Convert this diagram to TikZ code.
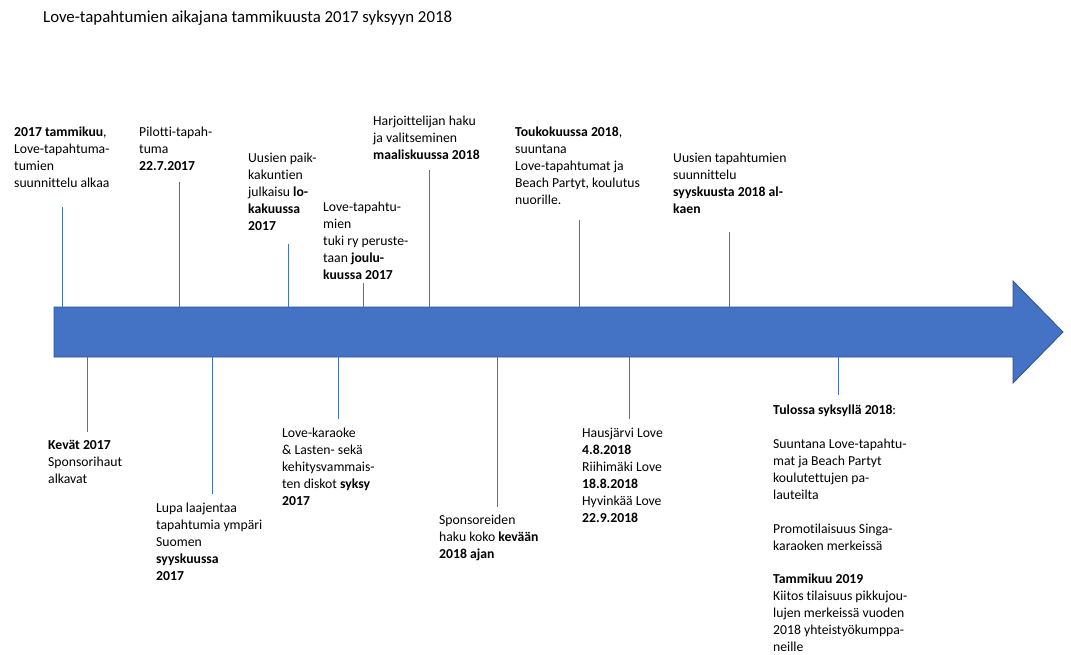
\documentclass[tikz,border=0pt]{standalone}
\usepackage{fontspec}
\setmainfont[Ligatures=NoCommon]{Carlito}
\definecolor{arrowfill}{HTML}{4472C4}
\definecolor{arrowedge}{HTML}{2F528F}
\definecolor{tick}{HTML}{4472C4}
\tikzset{
  lbl/.style={anchor=north west, inner sep=0pt, align=left,
    font=\fontsize{13.7pt}{17pt}\selectfont},
  ttl/.style={anchor=west, inner sep=0pt, font=\fontsize{16.8pt}{20pt}\selectfont},
  tickline/.style={draw=tick, line width=0.8pt},
  bigarrow/.style={fill=arrowfill, draw=arrowedge, line width=0.8pt, line join=miter}
}
\begin{document}
\begin{tikzpicture}[x=1pt,y=-1pt]
\useasboundingbox (0,0) rectangle (1071,654);
% title
\node[ttl] (title) at (43,18) {Love-tapahtumien aikajana tammikuusta 2017 syksyyn 2018};
% arrow
\fill[bigarrow] (54,307) -- (1013,307) -- (1013,281) -- (1063,332) -- (1013,383) -- (1013,357) -- (54,357) -- cycle;
\coordinate (atop) at (0,307);
\coordinate (abot) at (0,357);
% top labels
\node[lbl] (t1) at (14,127) {\textbf{2017 tammikuu},\\Love-tapahtuma-\\tumien\\suunnittelu alkaa};
\node[lbl] (t2) at (139,127) {Pilotti-tapah-\\tuma\\\textbf{22.7.2017}};
\node[lbl] (t3) at (248,153) {Uusien paik-\\kakuntien\\julkaisu \textbf{lo-}\\\textbf{kakuussa}\\\textbf{2017}};
\node[lbl] (t4) at (323,202) {Love-tapahtu-\\mien\\tuki ry peruste-\\taan \textbf{joulu-}\\\textbf{kuussa 2017}};
\node[lbl] (t5) at (373,116) {Harjoittelijan haku\\ja valitseminen\\\textbf{maaliskuussa 2018}};
\node[lbl] (t6) at (515,127) {\textbf{Toukokuussa 2018},\\suuntana\\Love-tapahtumat ja\\Beach Partyt, koulutus\\nuorille.};
\node[lbl] (t7) at (673,153) {Uusien tapahtumien\\suunnittelu\\\textbf{syyskuusta 2018 al-}\\\textbf{kaen}};
% bottom labels
\node[lbl] (b1) at (48,440) {\textbf{Kevät 2017}\\Sponsorihaut\\alkavat};
\node[lbl] (b2) at (156,503) {Lupa laajentaa\\tapahtumia ympäri\\Suomen\\\textbf{syyskuussa}\\\textbf{2017}};
\node[lbl] (b3) at (282,428) {Love-karaoke\\\& Lasten- sekä\\kehitysvammais-\\ten diskot \textbf{syksy}\\\textbf{2017}};
\node[lbl] (b4) at (439,515) {Sponsoreiden\\haku koko \textbf{kevään}\\\textbf{2018 ajan}};
\node[lbl] (b5) at (582,428) {Hausjärvi Love\\\textbf{4.8.2018}\\Riihimäki Love\\\textbf{18.8.2018}\\Hyvinkää Love\\\textbf{22.9.2018}};
\node[lbl] (b6) at (773,405) {\textbf{Tulossa syksyllä 2018}:\\[17pt]Suuntana Love-tapahtu-\\mat ja Beach Partyt\\koulutettujen pa-\\lauteilta\\[17pt]Promotilaisuus Singa-\\karaoken merkeissä\\[16pt]\textbf{Tammikuu 2019}\\Kiitos tilaisuus pikkujou-\\lujen merkeissä vuoden\\2018 yhteistyökumppa-\\neille};
% tick end points
\coordinate (c1) at (62,207);
\coordinate (c2) at (179,182);
\coordinate (c3) at (288,244);
\coordinate (c4) at (363,283);
\coordinate (c5) at (429,170);
\coordinate (c6) at (579,220);
\coordinate (c7) at (729,232);
\coordinate (d1) at (87,432);
\coordinate (d2) at (212,494);
\coordinate (d3) at (338,419);
\coordinate (d4) at (497,507);
\coordinate (d5) at (629,419);
\coordinate (d6) at (838,395);
\foreach \c in {c1,c2,c3,c4,c5,c6,c7}{\draw[tickline] (\c) -- (\c |- atop);}
\foreach \d in {d1,d2,d3,d4,d5,d6}{\draw[tickline] (\d) -- (\d |- abot);}
\end{tikzpicture}
\end{document}
